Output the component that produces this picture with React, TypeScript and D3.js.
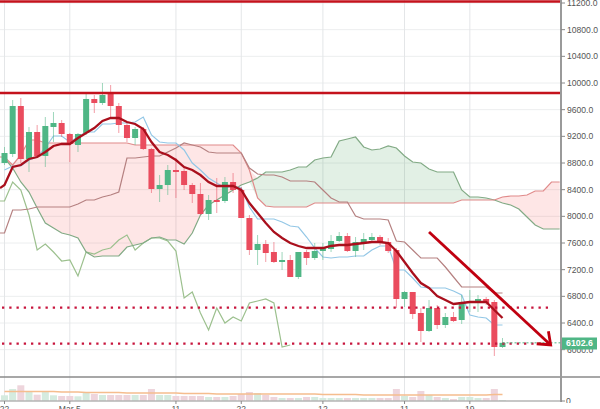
import React from "react";
import * as d3 from "d3";

const opens = [8800,8935,9655,8860,9265,8905,9340,9400,9235,9070,9250,9760,9700,9835,9655,9370,9175,9310,9010,8410,8470,8695,8680,8470,8335,8035,8245,8230,8515,8395,7975,7495,7585,7465,7315,7345,7090,7465,7375,7480,7510,7630,7705,7480,7615,7645,7690,7615,7495,6760,6865,6550,6280,6625,6370,6490,6445,6700,6730,6760,6715,6040];
const closes = [8950,9655,8860,9265,8905,9355,9400,9235,9085,9235,9760,9700,9820,9655,9370,9175,9310,9010,8410,8470,8695,8665,8470,8335,8035,8245,8215,8515,8395,7975,7495,7585,7450,7315,7345,7090,7465,7375,7480,7525,7630,7705,7480,7615,7660,7690,7615,7480,6760,6865,6535,6280,6625,6370,6490,6430,6715,6730,6760,6700,6040,6102.6];
const highs = [9040,9745,9775,9340,9370,9490,9565,9445,9250,9250,9865,9820,10000,9970,9700,9400,9340,9340,9025,8620,8770,8875,8725,8500,8500,8320,8575,8590,8650,8440,8020,7720,7645,7615,7465,7420,7465,7495,7600,7600,7720,7765,7750,7690,7750,7750,7720,7675,7525,6880,6865,6625,6745,6670,6550,6565,6820,6895,6820,6790,6745,6175];
const lows = [8770,8890,8800,8665,8875,8740,9115,9190,8815,8965,9220,9550,9670,9490,9250,9115,9070,8995,8350,8215,8320,8275,8395,8200,8020,7945,8050,8200,8350,7975,7420,7270,7315,7300,7195,7090,7060,7270,7345,7345,7465,7615,7465,7390,7495,7615,7570,7450,6625,6640,6460,6115,6265,6310,6325,6415,6385,6565,6565,6670,5905,6025];

const emaLine = [8470,8740,8770,8860,8890,8965,9055,9085,9085,9175,9250,9325,9430,9475,9475,9415,9385,9310,9115,8965,8920,8845,8740,8695,8620,8515,8455,8455,8455,8395,8200,8050,7900,7765,7675,7600,7555,7525,7525,7525,7555,7570,7570,7585,7600,7615,7615,7600,7480,7315,7150,7000,6925,6805,6745,6685,6700,6715,6715,6715,6595,6475];
const tenkan = [8695,8755,8755,8845,8890,9025,9205,9205,9115,9190,9265,9265,9385,9385,9400,9400,9415,9490,9220,9115,9100,9100,8995,8800,8695,8575,8500,8425,8455,8425,8140,7960,7960,7960,7915,7855,7840,7690,7525,7390,7375,7390,7390,7405,7405,7495,7555,7555,7195,7195,7075,6940,6925,6925,6925,6880,6820,6520,6490,6475,6370,6370];
const kijun = [7750,8095,8095,8110,8140,8140,8140,8140,8140,8185,8245,8245,8290,8320,8365,8875,8875,8890,8905,8905,8965,9025,9100,9070,9040,8965,8950,8950,8950,8950,8725,8635,8620,8620,8590,8530,8530,8530,8515,8395,8275,8215,8215,8005,7960,7960,7960,7945,7630,7615,7495,7375,7375,7375,7240,7090,6940,6940,6940,6940,6850,6850];
const chikou = [8230,8515,8395,8020,7495,7585,7465,7330,7345,7105,7465,7435,7495,7525,7645,7720,7495,7600,7675,7675,7630,7480,6775,6865,6550,6295,6625,6400,6490,6430,6700,6730,6760,6700,6040,6070];
const spanA = [8875,8725,8515,8365,8125,7900,7825,7750,7720,7675,7465,7390,7405,7405,7405,7540,7570,7600,7675,7690,7645,7645,7585,7750,8020,8170,8245,8320,8395,8470,8515,8575,8665,8665,8665,8695,8740,8740,8845,8875,8890,9130,9160,9190,9040,8995,9010,9055,9025,8905,8815,8800,8710,8665,8665,8665,8395,8290,8290,8275,8245,8200,8170,8110,7990,7870,7810,7810,7810];
const spanB = [8890,8770,8920,9145,9145,9100,9100,9100,9100,9100,9100,9100,9100,9100,9100,9100,9070,9070,9070,9070,9070,9070,9070,9070,9070,9070,9070,9070,9070,8950,8695,8275,8155,8140,8140,8140,8140,8140,8200,8200,8200,8200,8200,8200,8200,8200,8200,8200,8200,8200,8200,8200,8200,8200,8200,8200,8245,8245,8245,8245,8245,8290,8305,8305,8320,8380,8380,8515,8515];

const leadEma = 8425;
const leadKijun = 7750;
const leadChikou = 8230;
const leadSpanB = 8890;

const volumes = [5.7,12,15.7,9,6.3,9,5.7,5,5,4.7,8,7,6,6,6,6,6,6,12,6,6,5,5,5,5,4,4,4,5,7,9,8,6,4,3,3,3,4,4,3,3,3,3,3,3,3,3,3,12,5,4,10,6,4,3,2,4,4,3,3,12,1];
const volumeAverage = [9.5,9.5,9.5,9.5,9.5,9.5,9.5,9,9,9,8.5,8.5,8.5,8.5,8.5,8,8,8,8,8,8,8,7.5,7.5,7.5,7.5,7,7,7,7,7,7,7,7,7,7,7,7,7,6.5,6.5,6.5,6.5,6.5,6,6,6,6,6,6,6,6,6,6,6,6,6,6,6,6,6.5,6.5];

const priceTicks = [11200,10800,10400,10000,9600,9200,8800,8400,8000,7600,7200,6800,6400,6000];
const gridCandles = [0,8,21,29,39,49,57];
const dateLabels = ["22","Mar 5","11","22","12","11","19"];
const lastPrice = 6102.6;
const solidLevels = [11222,9850];
const dottedLevels = [6630,6090];
const arrowFrom = [52,7765];
const arrowTo = [66.9,6070];

const WIDTH = 600;
const HEIGHT = 409;
const AXIS_X = 561;
const GREEN = "#4fb685";
const RED = "#ea4c5e";

const x = d3.scaleLinear().domain([0, 61]).range([4.5, 502.5]);
const y = d3.scaleLinear().domain([11200, 6000]).range([3, 349.67]);
const yv = d3.scaleLinear().domain([0, 24]).range([401, 377]);

const path = (vals: number[], s: d3.ScaleLinear<number, number> = y, lead?: number) => {
  const pts: [number, number][] = vals.map((v, i) => [x(i), s(v)]);
  if (lead !== undefined) pts.unshift([x(-0.55), s(lead)]);
  return d3.line()(pts) ?? "";
};

const greenCloud = d3.area<number>().x((_, i) => x(i)).y0((a, i) => y(Math.min(a, spanB[i]))).y1((a) => y(a))(spanA) ?? "";
const pinkCloud = d3.area<number>().x((_, i) => x(i)).y0((a) => y(a)).y1((a, i) => y(Math.max(a, spanB[i])))(spanA) ?? "";

const ax = x(arrowFrom[0]), ay = y(arrowFrom[1]), bx = x(arrowTo[0]), by = y(arrowTo[1]);
const ang = Math.atan2(by - ay, bx - ax);
const head = [ang + Math.PI - 0.66, ang + Math.PI + 0.66].map((t) => [bx + 14 * Math.cos(t), by + 14 * Math.sin(t)]);

export default function App() {
  return (
    <svg width={WIDTH} height={HEIGHT} viewBox={`0 0 ${WIDTH} ${HEIGHT}`}
      style={{ position: "fixed", left: 0, top: 0, display: "block", background: "#fff" }}
      fontFamily="'Liberation Sans', Arial, sans-serif">
      <defs>
        <clipPath id="plot"><rect x={0} y={0} width={AXIS_X} height={377} /></clipPath>
        <clipPath id="zero"><rect x={562} y={395} width={38} height={8} /></clipPath>
      </defs>

      {priceTicks.map((t) => (
        <line key={t} x1={0} x2={AXIS_X} y1={y(t)} y2={y(t)} stroke="#eceeef" strokeWidth={1} />
      ))}
      {gridCandles.map((c) => (
        <line key={c} x1={x(c)} x2={x(c)} y1={0} y2={401} stroke="#e4e6e8" strokeWidth={1} />
      ))}

      <g clipPath="url(#plot)">
        <path d={pinkCloud} fill="#f7474722" />
        <path d={greenCloud} fill="#3f9a4f26" />
        <path d={path(chikou, y, leadChikou)} fill="none" stroke="#9cc08e" strokeWidth={1.2} />
        <path d={path(spanA)} fill="none" stroke="#82aa85" strokeWidth={1.2} />
        <path d={path(spanB, y, leadSpanB)} fill="none" stroke="#e08a8a" strokeWidth={1.2} />
        <path d={path(kijun, y, leadKijun)} fill="none" stroke="#b58080" strokeWidth={1.2} />
        <path d={path(tenkan)} fill="none" stroke="#93c7e6" strokeWidth={1.2} />

        {opens.map((o, i) => {
          const c = closes[i];
          const col = c >= o ? GREEN : RED;
          const top = y(Math.max(o, c));
          const bot = y(Math.min(o, c));
          return (
            <g key={i}>
              <line x1={x(i)} x2={x(i)} y1={y(highs[i])} y2={y(lows[i])} stroke={col} strokeOpacity={0.55} strokeWidth={1} />
              <rect x={x(i) - 3} y={top} width={6} height={Math.max(bot - top, 1)} fill={col} />
            </g>
          );
        })}

        <path d={path(emaLine, y, leadEma)} fill="none" stroke="#a90f1c" strokeWidth={2.3} />
      </g>

      {volumes.map((v, i) => (
        <rect key={i} x={x(i) - 3.5} y={yv(v)} width={7} height={yv(0) - yv(v)}
          fill={closes[i] >= opens[i] ? "#d5ebdf" : "#eed5dc"} />
      ))}
      <path d={path(volumeAverage, yv)} fill="none" stroke="#f5bd8e" strokeWidth={1.3} />

      <line x1={0} x2={WIDTH} y1={377} y2={377} stroke="#8a8a8a" strokeWidth={1.5} />
      <line x1={0} x2={AXIS_X} y1={401} y2={401} stroke="#b4b4b4" strokeWidth={1.5} />
      <line x1={AXIS_X} x2={AXIS_X} y1={0} y2={402} stroke="#9a9a9a" strokeWidth={2} />

      {solidLevels.map((l) => (
        <line key={l} x1={0} x2={AXIS_X - 1} y1={y(l)} y2={y(l)} stroke="#c4121c" strokeWidth={2.4} />
      ))}
      {dottedLevels.map((l) => (
        <line key={l} x1={2} x2={548} y1={y(l)} y2={y(l)} stroke="#c7153d" strokeWidth={2.3} strokeDasharray="2.3 4.95" />
      ))}
      <line x1={x(61)} x2={AXIS_X} y1={y(lastPrice)} y2={y(lastPrice)} stroke={GREEN} strokeWidth={1} strokeDasharray="2 2" />

      <line x1={ax} y1={ay} x2={bx} y2={by} stroke="#c00010" strokeWidth={2.8} />
      <polyline points={`${head[0].join(",")} ${bx},${by} ${head[1].join(",")}`} fill="none" stroke="#c00010" strokeWidth={2.8} />

      {priceTicks.map((t) => (
        <g key={t}>
          <line x1={AXIS_X} x2={565} y1={y(t)} y2={y(t)} stroke="#888" strokeWidth={1} />
          <text x={567} y={y(t)} dy="0.35em" fontSize={8.6} fill="#555">{d3.format(".1f")(t)}</text>
        </g>
      ))}

      <rect x={562} y={337.5} width={35} height={12} fill={GREEN} />
      <text x={579.5} y={y(lastPrice)} dy="0.36em" textAnchor="middle" fontSize={8.8} fontWeight="bold" fill="#fff">{d3.format(".1f")(lastPrice)}</text>

      <line x1={AXIS_X} x2={565} y1={yv(0)} y2={yv(0)} stroke="#888" strokeWidth={1} />
      <text x={566} y={404} fontSize={8.6} fill="#555" clipPath="url(#zero)">0</text>

      {gridCandles.map((c, i) => (
        <g key={c}>
          <line x1={x(c)} x2={x(c)} y1={401} y2={404} stroke="#888" strokeWidth={1} />
          <text x={x(c)} y={412} textAnchor="middle" fontSize={8.6} fill="#555">{dateLabels[i]}</text>
        </g>
      ))}
    </svg>
  );
}
